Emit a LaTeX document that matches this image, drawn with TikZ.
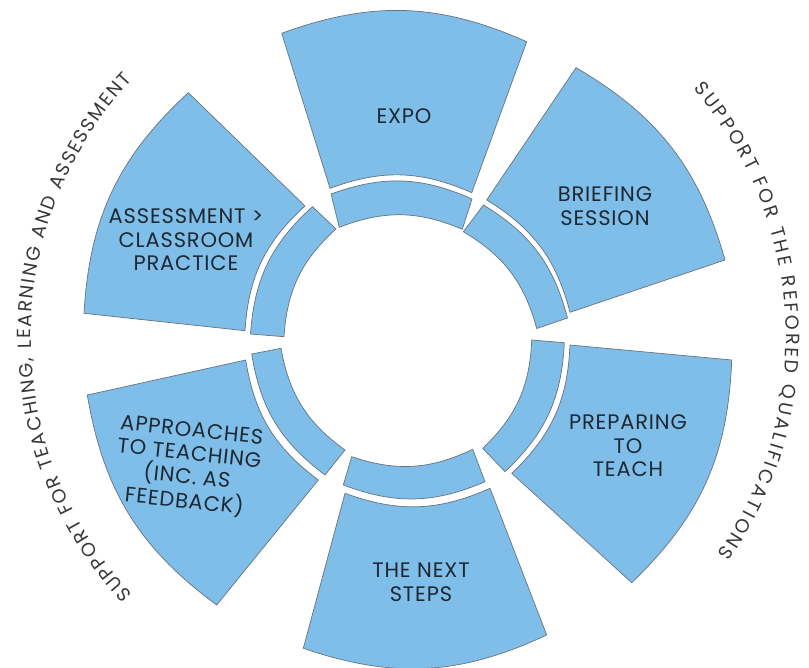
\documentclass[tikz,border=0pt]{standalone}
\usepackage{fontspec}
\setmainfont{Poppins}
\newfontfamily\boxfont{Poppins}[LetterSpace=4]
\usetikzlibrary{decorations.text,calc}
\definecolor{segblue}{RGB}{126,190,232}
\definecolor{segline}{RGB}{105,115,125}
\definecolor{txt}{RGB}{30,40,50}
\definecolor{arctxt}{RGB}{55,55,55}
\begin{document}
\begin{tikzpicture}[x=1pt,y=1pt,
  seg/.style={fill=segblue, draw=segline, line width=0.7pt, line join=round},
  lbl/.style={text=txt, font=\boxfont\fontsize{21}{23.5}\selectfont, align=center, inner sep=0pt}]
\useasboundingbox (0,0) rectangle (809,-668);
\coordinate (C) at (408,-337);
% ---- outer segments ----
% Expo
\draw[seg] (281.7,-33.3) to[bend left=22] (526.7,-41.7) -- (471.7,-192.7) to[bend right=22] (330,-188.3) -- cycle;
% Briefing session
\draw[seg] (576,-67.7) to[bend left=22] (725,-260) -- (570,-312.3) to[bend right=22] (486.7,-200) -- cycle;
% Preparing to teach
\draw[seg] (731.7,-360) to[bend left=22] (631.7,-582.7) -- (511.7,-473.3) to[bend right=22] (570,-345) -- cycle;
% The next steps
\draw[seg] (546.7,-635) to[bend left=22] (303.3,-648.3) -- (345,-493.3) to[bend right=22] (490,-488.3) -- cycle;
% Approaches
\draw[seg] (216.7,-605) to[bend left=22] (87.3,-395) -- (245.7,-360) to[bend right=22] (318.3,-480) -- cycle;
% Assessment
\draw[seg] (84,-313.3) to[bend left=22] (188.3,-92.7) -- (305,-206) to[bend right=22] (245,-330.7) -- cycle;
% ---- inner ring pieces ----
\draw[seg] (331,-194) to[bend left=22] (472,-199) -- (462.3,-229.3) to[bend right=22] (339.3,-227.3) -- cycle;
\draw[seg] (483.5,-205) to[bend left=22] (567.5,-318) -- (536.7,-328.5) to[bend right=22] (463.3,-231.7) -- cycle;
\draw[seg] (564.3,-342.7) to[bend left=22] (505,-471.7) -- (482.7,-448.3) to[bend right=22] (531.7,-340) -- cycle;
\draw[seg] (485,-481.7) to[bend left=22] (343.3,-485) -- (351.7,-456.7) to[bend right=22] (472.7,-449.3) -- cycle;
\draw[seg] (325,-475) to[bend left=22] (251.7,-354) -- (281,-348.3) to[bend right=22] (345,-450) -- cycle;
\draw[seg] (250.5,-334) to[bend left=22] (312.5,-206.7) -- (336,-229) to[bend right=22] (284,-336.7) -- cycle;
% ---- labels ----
\node[lbl] (expo) at (404,-116) {EXPO};
\node[lbl] (brief) at (605,-206) {BRIEFING\\SESSION};
\node[lbl] (prep) at (628,-446) {PREPARING\\TO\\TEACH};
\node[lbl] (next) at (421,-582) {THE NEXT\\STEPS};
\node[lbl, rotate=-6] (appr) at (188,-467) {APPROACHES\\TO TEACHING\\(INC. AS\\FEEDBACK)};
\node[lbl] (assess) at (186,-240) {ASSESSMENT >\\CLASSROOM\\PRACTICE};
% ---- curved captions ----
\path[decorate, decoration={text along path, text color=arctxt,
  text={|\fontsize{19}{19}\selectfont|SUPPORT FOR TEACHING, LEARNING AND ASSESSMENT},
  text align={fit to path}}]
  ($(C)+(223:377)$) arc[start angle=223, end angle=137, radius=377];
\path[decorate, decoration={text along path, text color=arctxt,
  text={|\fontsize{19}{19}\selectfont|SUPPORT FOR THE REFORED QUALIFICATIONS},
  text align={fit to path}}]
  ($(C)+(41:378)$) arc[start angle=41, end angle=-35, radius=378];
\end{tikzpicture}
\end{document}
